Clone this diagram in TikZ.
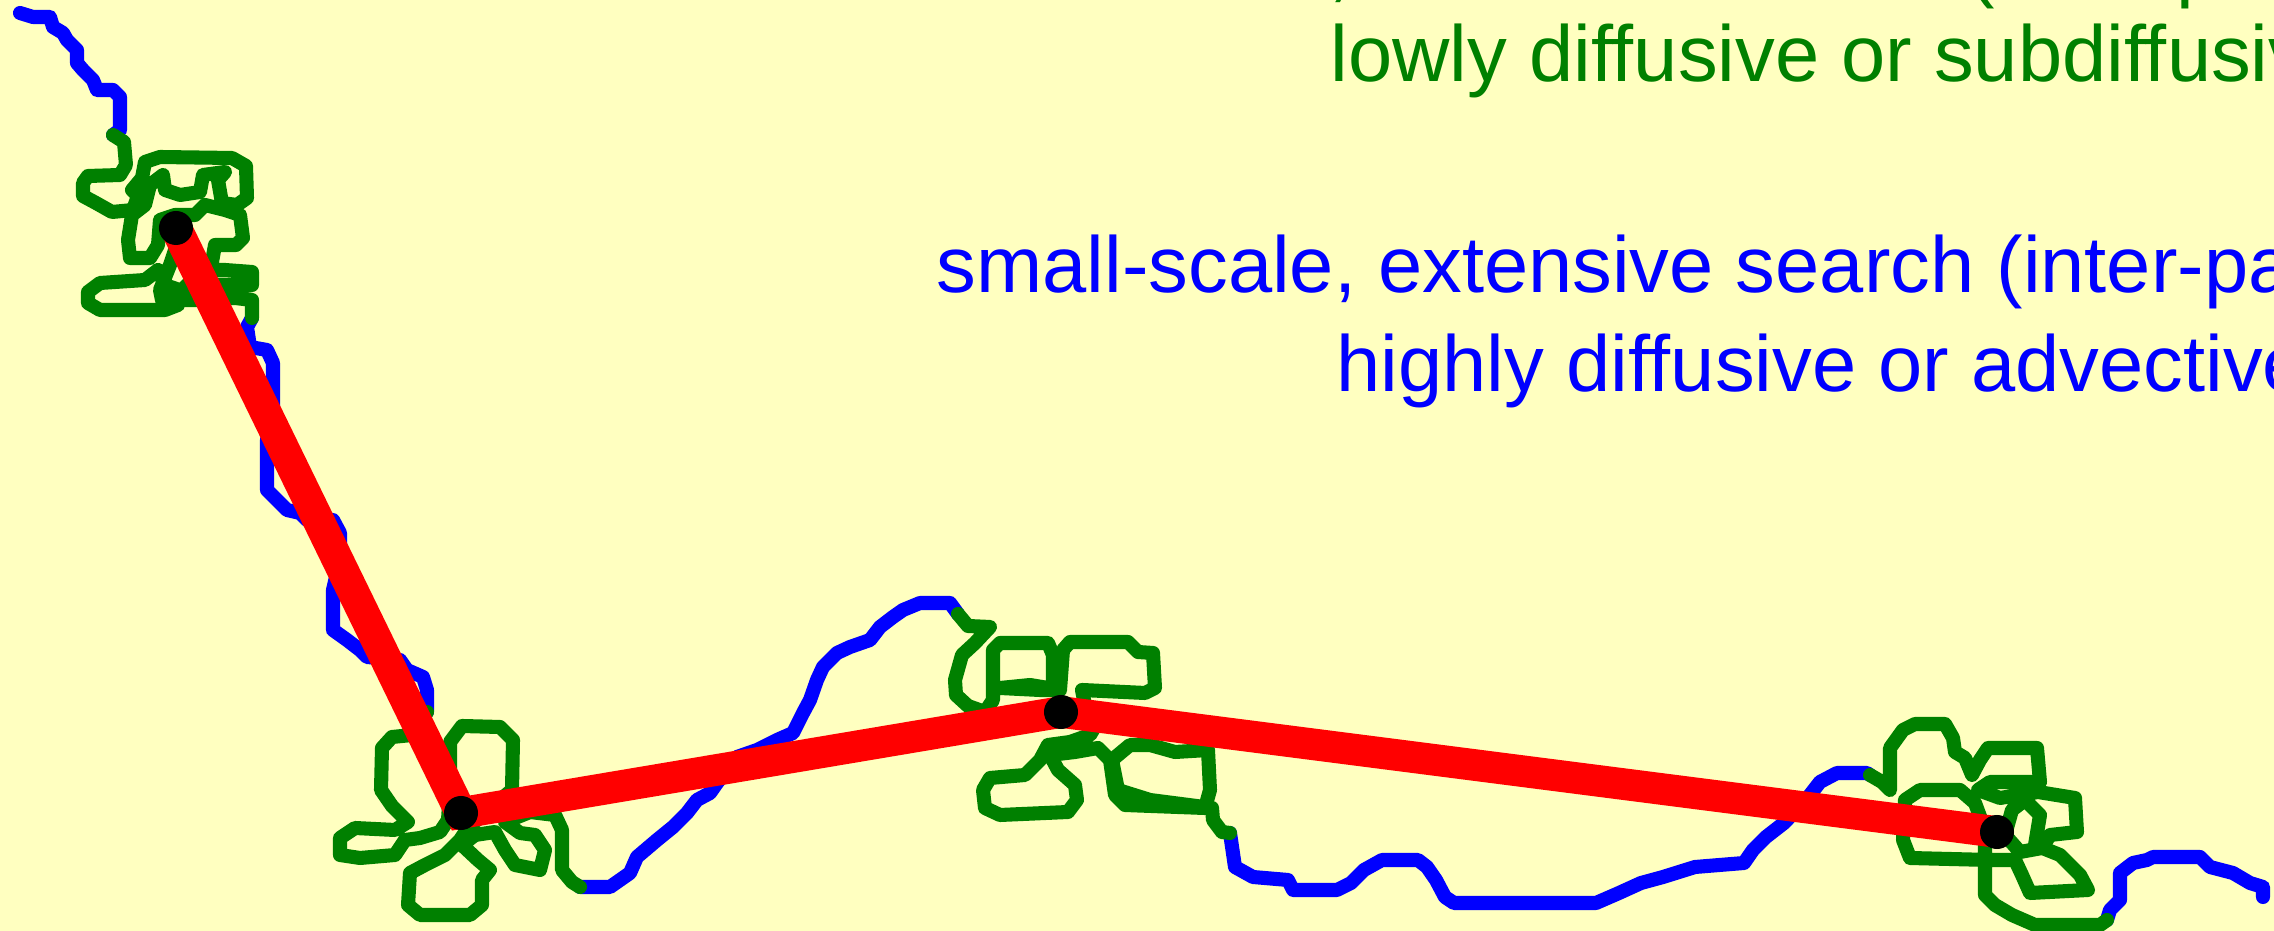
\documentclass[tikz,border=0pt]{standalone}
\usepackage{fontspec}
\setmainfont{Liberation Sans}
\usepackage{xcolor}
\definecolor{paperyellow}{RGB}{255,255,192}
\definecolor{walkblue}{RGB}{0,0,255}
\definecolor{patchgreen}{RGB}{0,128,0}
\definecolor{leapred}{RGB}{255,0,0}

\begin{document}
\begin{tikzpicture}[
        x=0.01cm, y=-0.01cm,
        roam/.style={walkblue, line width=4pt, line join=round, line cap=round},
        local/.style={patchgreen, line width=4pt, line join=round, line cap=round},
        leap/.style={leapred, line width=9pt},
        patch/.style={circle, fill=black, inner sep=0pt, minimum size=0.34cm},
        note/.style={anchor=base west, inner sep=0pt, font=\fontsize{22.6}{27}\selectfont}
    ]
        \fill[paperyellow] (0,0) rectangle (2274,931);
        \useasboundingbox (0,0) rectangle (2274,931);

        \coordinate (p1) at (176,228);
        \coordinate (p2) at (461,813);
        \coordinate (p3) at (1061,712);
        \coordinate (p4) at (1997,832);

        % extensive search between patches
        \draw[roam] plot coordinates {(20,13) (33,17) (50,17) (53,27) (63,33) (67,40) (77,50) (77,63) (83,70) (93,80) (97,90) (113,90) (120,97) (120,130) (113,135)};
        \draw[roam] plot coordinates {(252,318) (247,327) (250,347) (267,350) (273,363) (273,407) (267,440) (267,490) (280,503) (287,510) (300,513) (307,520) (333,520) (340,533) (340,560) (333,590) (333,630) (347,640) (360,650) (367,657) (400,660) (407,670) (423,677) (427,690) (427,712)};
        \draw[roam] plot coordinates {(580,887) (610,887) (630,873) (637,857) (657,840) (673,827) (687,813) (697,800) (710,793) (717,783) (737,757) (757,750) (777,740) (793,733) (803,713) (810,700) (817,680) (823,667) (837,653) (850,647) (870,640) (880,627) (893,617) (903,610) (920,603) (950,603) (958,614)};
        \draw[roam] plot coordinates {(1230,833) (1235,867) (1253,877) (1288,880) (1293,890) (1337,890) (1351,883) (1364,870) (1382,860) (1418,860) (1427,867) (1436,880) (1445,897) (1454,903) (1596,903) (1619,893) (1641,883) (1663,877) (1695,867) (1744,863) (1753,850) (1766,837) (1784,823) (1806,800) (1820,782) (1837,773) (1867,773) (1870,775)};
        \draw[roam] plot coordinates {(2107,920) (2110,910) (2120,900) (2120,873) (2133,863) (2147,860) (2153,857) (2200,857) (2210,867) (2233,873) (2250,883) (2263,887) (2263,897)};

        % intensive search inside patches
        \draw[local] plot coordinates {(113,135) (124,142) (126,165) (120,175) (88,176) (83,183) (83,196) (96,203) (112,212) (133,210) (138,196) (132,190) (142,178) (145,162) (160,157) (232,158) (246,166) (247,198) (237,205) (222,203) (218,180) (225,172) (203,175) (200,192) (180,195) (165,190) (163,175) (150,185) (145,205) (132,215) (128,240) (130,258) (150,258) (158,245) (160,220) (175,215) (195,215) (205,205) (225,210) (240,215) (243,238) (236,245) (215,245) (212,262) (195,270) (225,270) (252,272) (252,285) (210,285) (190,282) (180,292) (178,305) (165,310) (100,310) (88,303) (88,292) (100,283) (145,280) (158,270) (165,285) (185,292) (195,275) (200,258) (185,245) (175,250) (170,265) (160,290) (162,300) (200,300) (235,298) (252,300) (252,318)};
        \draw[local] plot coordinates {(427,712) (412,735) (392,737) (382,748) (381,790) (392,806) (408,822) (395,830) (355,828) (340,838) (340,855) (360,858) (395,855) (405,840) (420,838) (440,832) (448,820) (450,790) (450,742) (462,726) (500,727) (513,740) (512,790) (500,800) (488,812) (470,825) (460,840) (445,855) (425,865) (410,873) (408,905) (420,915) (470,915) (482,905) (482,880) (490,870) (478,860) (462,845) (475,835) (495,832) (505,850) (515,865) (540,870) (545,850) (535,835) (520,833) (505,822) (530,812) (555,815) (562,830) (562,870) (572,882) (580,887)};
        \draw[local] plot coordinates {(958,614) (968,626) (990,627) (975,643) (962,655) (955,680) (956,695) (968,706) (985,712) (993,700) (993,650) (1000,643) (1048,643) (1053,655) (1053,690) (1040,690) (1000,688) (1030,685) (1060,690) (1063,650) (1070,642) (1128,642) (1138,652) (1153,653) (1155,688) (1145,693) (1082,690) (1085,705) (1100,718) (1090,735) (1070,742) (1048,745) (1040,760) (1025,775) (990,778) (983,790) (985,808) (1000,815) (1068,812) (1077,800) (1075,785) (1058,770) (1050,755) (1075,752) (1098,748) (1110,760) (1115,795) (1125,805) (1205,808) (1210,790) (1208,750) (1175,752) (1150,745) (1130,745) (1112,760) (1118,790) (1150,800) (1212,808) (1213,820) (1222,832) (1230,833)};
        \draw[local] plot coordinates {(1870,775) (1882,782) (1890,790) (1890,748) (1903,730) (1915,724) (1945,724) (1953,738) (1955,752) (1965,758) (1972,775) (1980,760) (1988,748) (2037,748) (2040,782) (1990,782) (1978,790) (2000,798) (2038,792) (2075,798) (2077,832) (2050,835) (2042,848) (2020,852) (2005,835) (2012,810) (2025,800) (2040,815) (2035,845) (2060,855) (2080,875) (2088,890) (2030,893) (2022,875) (2015,860) (1990,860) (1910,858) (1903,840) (1905,800) (1920,790) (1960,790) (1975,803) (1985,830) (1985,860) (1985,895) (1995,905) (2012,915) (2035,925) (2100,925) (2107,920)};

        % large-scale leaps between patch centres
        \draw[leap] (p1) -- (p2) -- (p3) -- (p4);
        \node[patch] (stop1) at (p1) {};
        \node[patch] (stop2) at (p2) {};
        \node[patch] (stop3) at (p3) {};
        \node[patch] (stop4) at (p4) {};

        \node[note, patchgreen] (intra1) at (930,-7) {small-scale, intensive search (intra-p};
        \node[note, patchgreen] (intra2) at (1330,82) {lowly diffusive or subdiffusiv};
        \node[note, walkblue] (inter1) at (936,293) {small-scale, extensive search (inter-pa};
        \node[note, walkblue] (inter2) at (1336,392) {highly diffusive or advective};
    \end{tikzpicture}
\end{document}
